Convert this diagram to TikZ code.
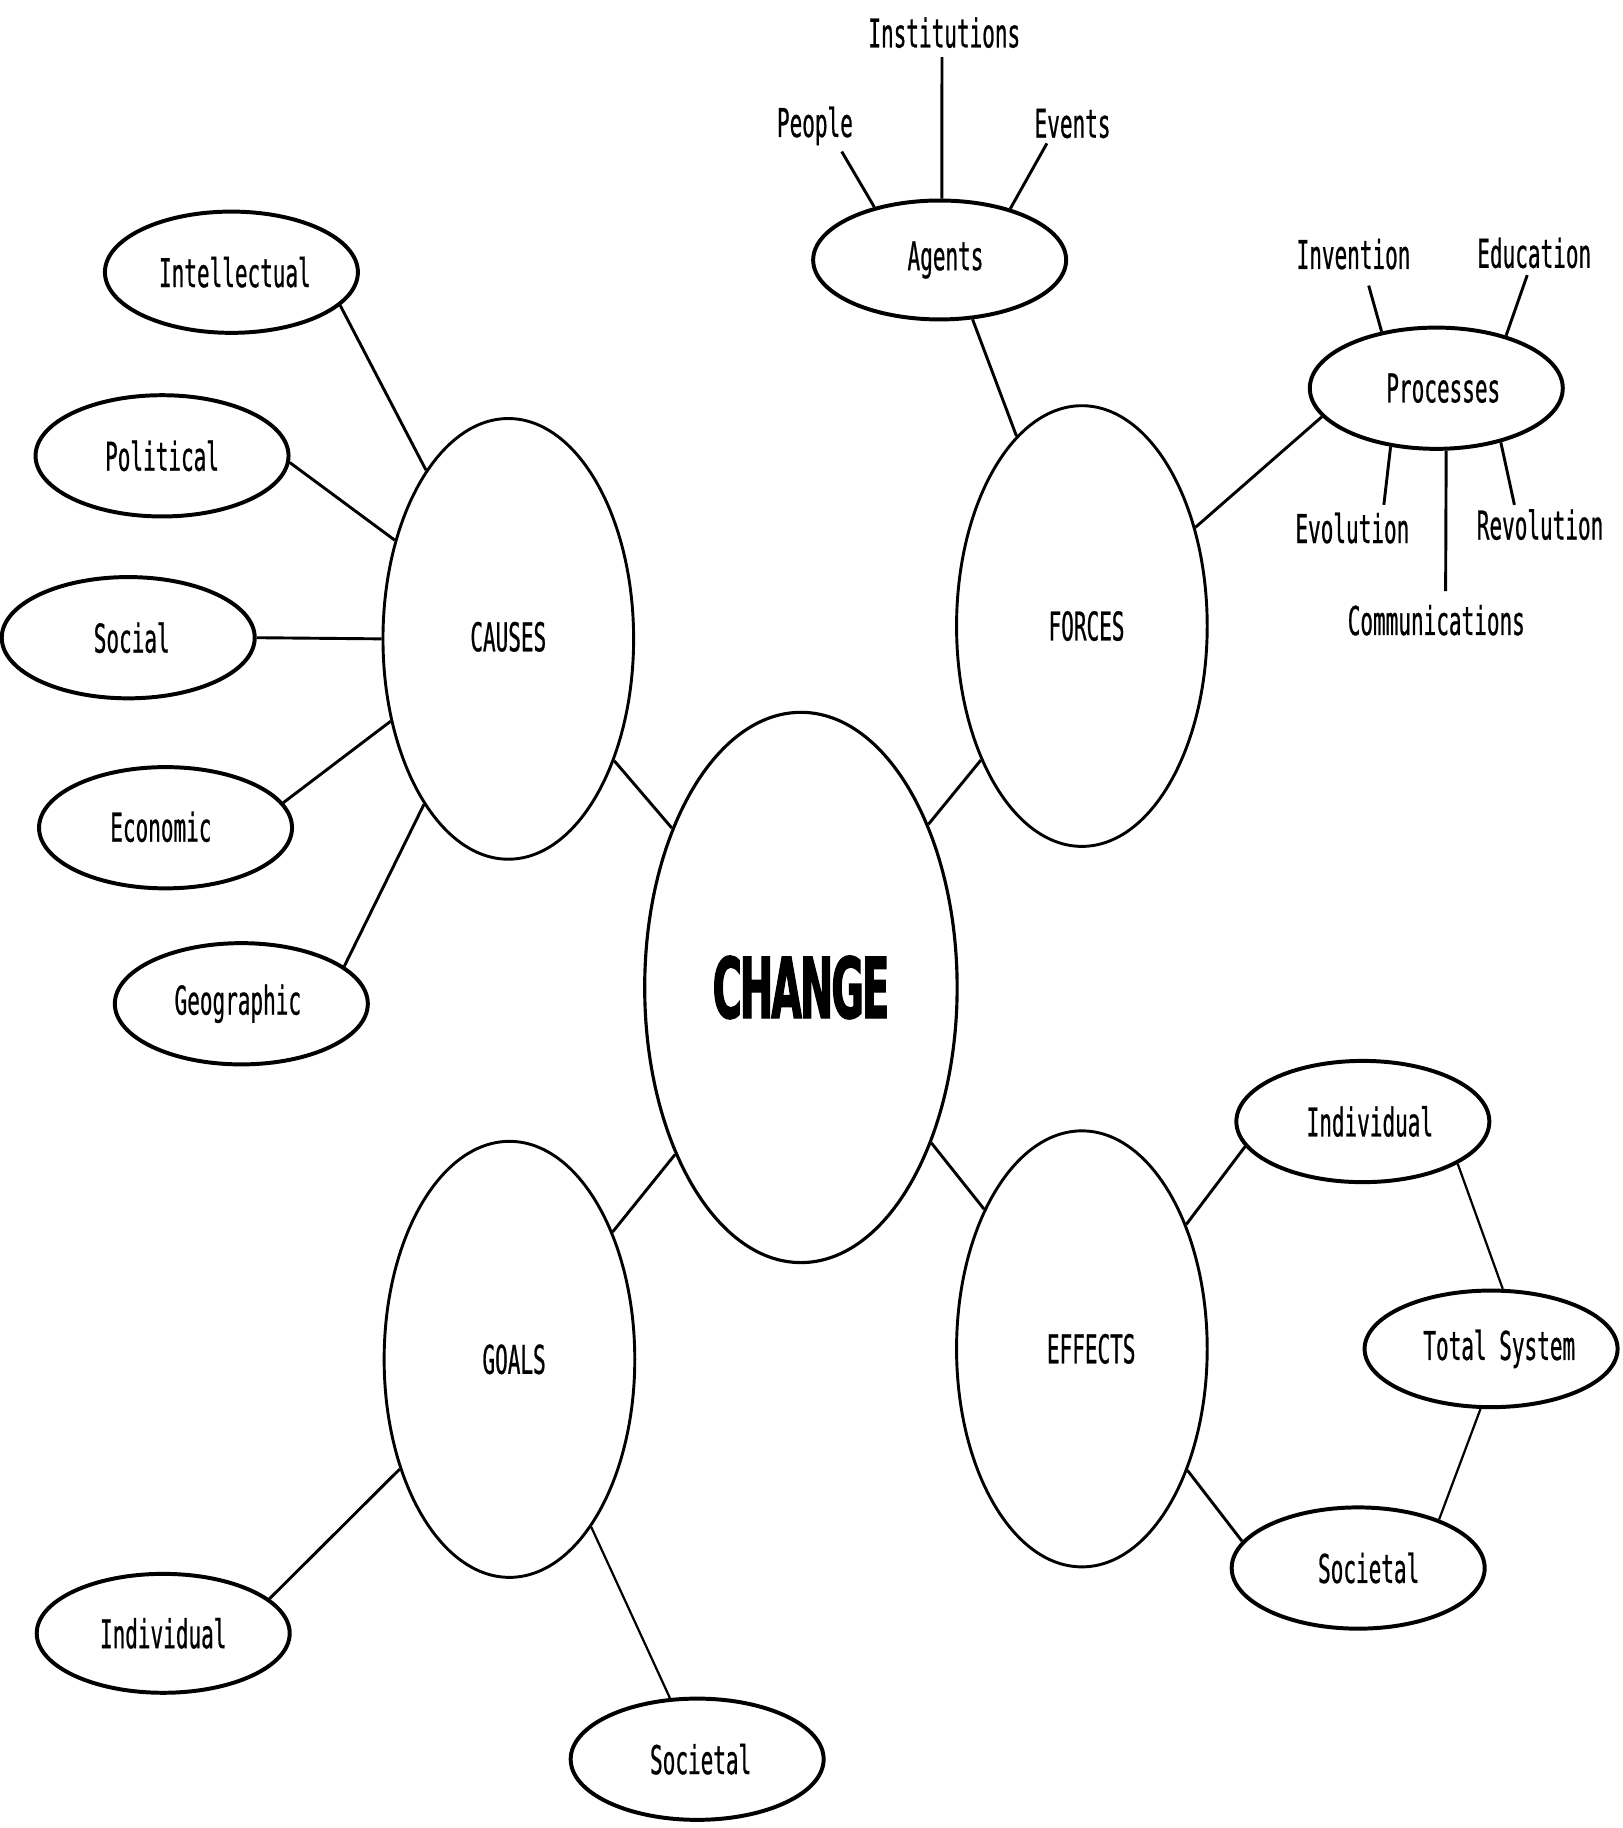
\documentclass[tikz,border=0pt]{standalone}
\usepackage{fontspec}
\usetikzlibrary{shapes.geometric}
\newfontfamily\typ[FakeStretch=0.53,FakeBold=0.6]{DejaVu Sans Mono}
\newfontfamily\bigfont[FakeStretch=0.47,LetterSpace=-2,FakeBold=1.5]{DejaVu Sans Bold}
\newcommand\sh[2]{\hspace*{#1}\raisebox{#2}{}}
\begin{document}
\begin{tikzpicture}[x=1pt,y=-1pt,
  small/.style={ellipse,draw,line width=3.4pt,inner sep=0pt,minimum width=217pt,minimum height=104pt,font=\typ\fontsize{34}{40}\selectfont},
  big/.style={ellipse,draw,line width=2.5pt,inner sep=0pt,minimum width=215pt,minimum height=378pt,font=\typ\fontsize{34}{40}\selectfont},
  lbl/.style={inner sep=0pt,font=\typ\fontsize{34}{40}\selectfont},
  con/.style={line width=2.5pt},
  thin/.style={line width=1.9pt}]
\useasboundingbox (0,0) rectangle (1392,1568);
\fill[white] (0,0) rectangle (1392,1568);

% central
\node[ellipse,draw,line width=2.7pt,inner sep=0pt,minimum width=268pt,minimum height=472pt,font=\bigfont\fontsize{72}{80}\selectfont] (change) at (687,847) {\raisebox{-6pt}{CHANGE}};

% four main
\node[big] (causes) at (436,548) {\raisebox{4pt}{CAUSES}};
\node[big] (forces) at (928,537) {\hspace*{8pt}FORCES};
\node[big,minimum height=374pt] (goals) at (437,1166) {\hspace*{8pt}GOALS};
\node[big,minimum height=374pt] (effects) at (928,1157) {\hspace*{16pt}EFFECTS};

% causes children
\node[small] (intel) at (198.5,233.5) {\hspace*{6pt}\raisebox{-2pt}{Intellectual}};
\node[small] (polit) at (139,391) {Political};
\node[small] (social) at (110,547) {\hspace*{6pt}Social};
\node[small] (econ) at (142,710) {\raisebox{2pt}{Economic}\hspace*{8pt}};
\node[small] (geo) at (207,861) {Geographic\hspace*{6pt}};

% goals children
\node[small,minimum height=102pt] (gind) at (140,1401) {Individual};
\node[small] (gsoc) at (598,1509) {\hspace*{6pt}Societal};

% effects children
\node[small] (eind) at (1169,962) {\hspace*{12pt}Individual};
\node[small,minimum height=100pt] (etot) at (1279,1157) {\hspace*{14pt}\raisebox{3pt}{Total System}};
\node[small] (esoc) at (1165,1345) {\hspace*{18pt}Societal};

% forces children
\node[small,minimum height=102pt] (agents) at (806,223) {\hspace*{10pt}\raisebox{-3pt}{Agents}};
\node[small] (proc) at (1232,333) {\hspace*{12pt}\raisebox{-3pt}{Processes}};

% free labels
\node[lbl] (inst) at (810,28) {Institutions};
\node[lbl] (people) at (699,108) {People};
\node[lbl] (events) at (920,106) {Events};
\node[lbl] (invent) at (1161,218) {Invention};
\node[lbl] (educ) at (1316,217) {Education};
\node[lbl] (evol) at (1160,453) {Evolution};
\node[lbl] (revol) at (1321,450) {Revolution};
\node[lbl] (comm) at (1232,532) {Communications};

\coordinate (instE) at (808,49);
\coordinate (peopleE) at (722,130);
\coordinate (eventsE) at (898,123);
\coordinate (inventE) at (1174,245);
\coordinate (educE) at (1310,236);
\coordinate (evolE) at (1187,433);
\coordinate (commE) at (1240,507);
\coordinate (revolE) at (1299,433);

% connectors: causes
\draw[con] (intel.-17.8) -- (causes.116.7);
\draw[con] (polit.-3.7) -- (causes.139.7);
\draw[con] (social.0) -- (causes.180);
\draw[con] (econ.12.8) -- (causes.-145.2);
\draw[con] (geo.20.6) -- (causes.-117.5);
\draw[con] (causes.-49.4) -- (change.129.3);

% goals
\draw[con] (goals.51.5) -- (change.-127.5);
\draw[con] (goals.-135.6) -- (gind.18.1);
\draw[thin] (goals.-64.1) -- (gsoc.114.6);

% forces
\draw[con] (change.52.7) -- (forces.-127.8);
\draw[con] (forces.109) -- (agents.-61.8);
\draw[con] (forces.41.9) -- (proc.-166.9);
\draw[con] (agents.141) -- (peopleE);
\draw[con] (agents.88) -- (instE);
\draw[con] (agents.36.9) -- (eventsE);
\draw[con] (proc.134.4) -- (inventE);
\draw[con] (proc.37.5) -- (educE);
\draw[con] (proc.-128.1) -- (evolE);
\draw[con] (proc.-81.9) -- (commE);
\draw[con] (proc.-40.7) -- (revolE);

% effects
\draw[con] (change.-50.5) -- (effects.125.7);
\draw[con] (effects.50.7) -- (eind.-168.5);
\draw[thin] (eind.-24.5) -- (etot.79.3);
\draw[thin] (etot.-100) -- (esoc.31.1);
\draw[con] (effects.-49.7) -- (esoc.167);
\end{tikzpicture}
\end{document}
